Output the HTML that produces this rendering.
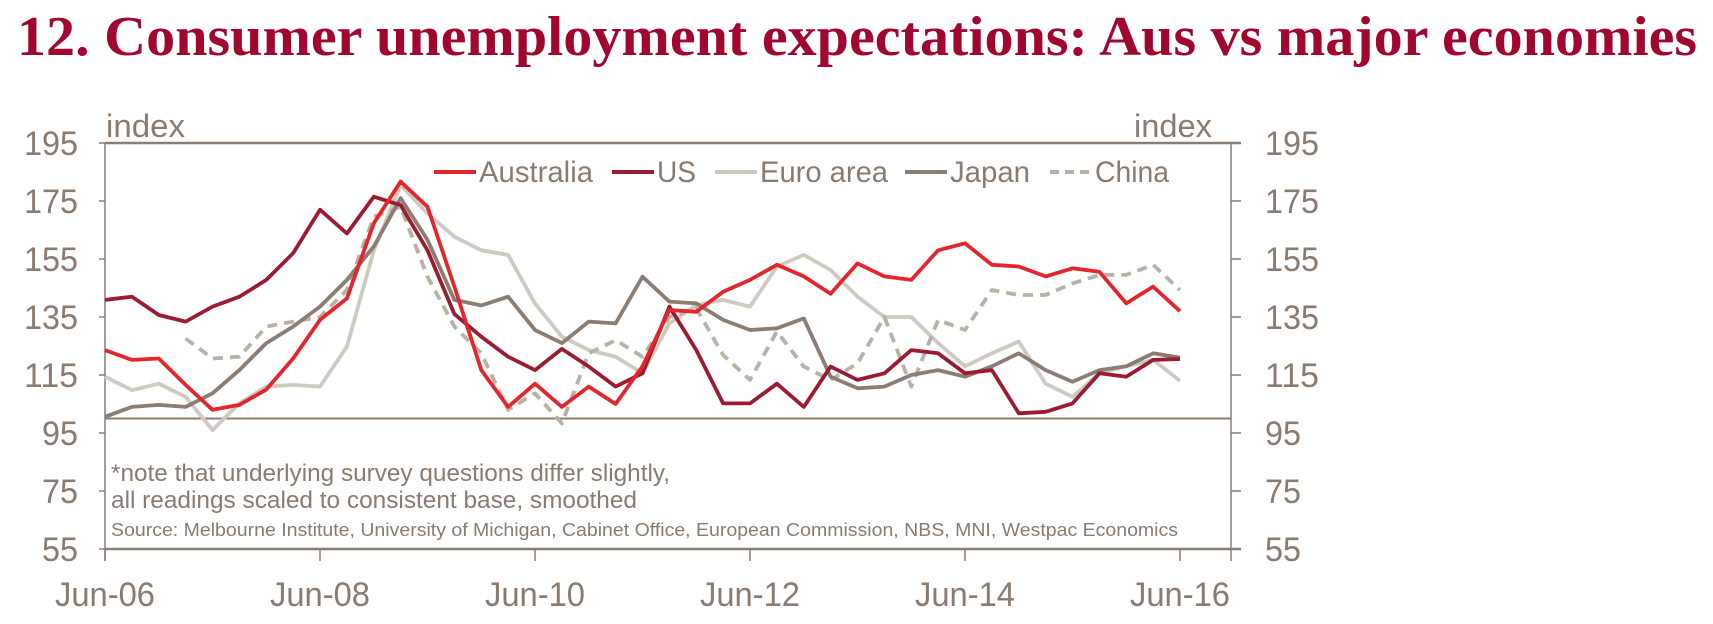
<!DOCTYPE html>
<html><head><meta charset="utf-8"><style>
html,body{margin:0;padding:0;background:#fff;}
svg{display:block;font-family:"Liberation Sans",sans-serif;}
</style></head><body>
<svg id="chart" width="1713" height="624" viewBox="0 0 1713 624" xmlns="http://www.w3.org/2000/svg">
<text x="17" y="55" font-family="Liberation Serif, serif" font-weight="bold" font-size="56" fill="#a0062e" textLength="1680" lengthAdjust="spacingAndGlyphs">12. Consumer unemployment expectations: Aus vs major economies</text>
<g id="axes"></g>
<g id="series"></g>
<g id="legend"></g>
<text x="111" y="481" font-size="24" fill="#8a7b6e" textLength="559" lengthAdjust="spacingAndGlyphs">*note that underlying survey questions differ slightly,</text>
<text x="111" y="508" font-size="24" fill="#8a7b6e" textLength="526" lengthAdjust="spacingAndGlyphs">all readings scaled to consistent base, smoothed</text>
<text x="111" y="536" font-size="18" fill="#8a7b6e" textLength="1067" lengthAdjust="spacingAndGlyphs">Source: Melbourne Institute, University of Michigan, Cabinet Office, European Commission, NBS,  MNI, Westpac Economics</text>
</svg>
<script>
const quarters = [0,0.25,0.5,0.75,1,1.25,1.5,1.75,2,2.25,2.5,2.75,3,3.25,3.5,3.75,4,4.25,4.5,4.75,5,5.25,5.5,5.75,6,6.25,6.5,6.75,7,7.25,7.5,7.75,8,8.25,8.5,8.75,9,9.25,9.5,9.75,10];
const australia = [123.6,120.2,120.7,111.6,103,104.7,110,120.7,134,141.4,167.3,181.7,173,145.5,116.7,104,112,104,111,105,118,137.4,136.8,143.7,147.8,153,149,143,153.5,149,147.8,158,160.4,153,152.4,149,151.8,150.6,139.7,145.5,137];
const us = [140.9,142,135.7,133.4,138.6,142,147.8,157,172,163.8,176.5,173.6,158,136,128.2,121.3,116.7,124,117.9,111,115.6,138.6,123.6,105.2,105.2,112,104,117.9,113.3,115.6,123.6,122.5,115.6,116.7,101.8,102.3,105.2,115.6,114.4,120.2,120.5];
const euro = [114.4,109.8,112,107.5,96,105.2,111,111.6,111,124.8,158,180.5,170.7,162.7,158,156.4,139.7,128.2,123.6,121.3,115.6,132.8,139.1,140.9,138.6,152.4,156.4,151.2,142,135,135,126,118,122.5,126.5,112,107.5,115.6,118,120.2,113];
const japan = [100.6,104,104.7,104,108.7,116.7,126,131.7,138.6,147.8,159.3,176,161.6,140.9,139,142,130.5,126,133.4,132.8,148.9,140.3,139.7,134,130.5,131.1,134.5,114.4,110.4,111,115,116.7,114.4,118,122.5,116.7,112.7,116.7,118,122.5,121];
const china = [null,null,null,127.6,120.7,121.3,131.7,133.4,135,144.3,169.6,173,148.9,131.7,122.5,103,108.7,98.3,122.5,127,121.3,135,138,121.9,113.3,130,117.9,113.3,119,135,111,134,130.5,144.3,142.6,142.6,146.6,149.5,149.5,153,144.3];
const yTicks = [55,75,95,115,135,155,175,195];
const xTickYears = [0,2,4,6,8,10];
const xTickLabels = ["Jun-06","Jun-08","Jun-10","Jun-12","Jun-14","Jun-16"];
const seriesNames = ["Australia","US","Euro area","Japan","China"];

const NS="http://www.w3.org/2000/svg";
const X0=105, PXY=107.5, XR=1231;
function x(t){return X0+PXY*t;}
function y(v){return 201+(175-v)*2.9;}
function mk(tag,attrs,parent){const e=document.createElementNS(NS,tag);for(const k in attrs)e.setAttribute(k,attrs[k]);parent.appendChild(e);return e;}
const axes=document.getElementById('axes');
const ax="#8c7d72", txt="#8a7b6e";
let e;
e=mk('line',{x1:X0,y1:y(195),x2:XR+10,y2:y(195),stroke:ax,'stroke-width':2.5},axes);


e=mk('line',{x1:X0,y1:y(55),x2:XR+10,y2:y(55),stroke:ax,'stroke-width':2.5},axes);


e=mk('line',{x1:X0,y1:y(195),x2:X0,y2:y(55)+12,stroke:ax,'stroke-width':1.5},axes);


e=mk('line',{x1:XR,y1:y(195),x2:XR,y2:y(55)+12,stroke:ax,'stroke-width':1.5},axes);


e=mk('line',{x1:X0,y1:y(100),x2:XR,y2:y(100),stroke:ax,'stroke-width':2},axes);


yTicks.forEach(v=>{
  const w=String(v).length*18;
  let t=mk('line',{x1:X0-6,y1:y(v),x2:X0,y2:y(v),stroke:ax,'stroke-width':1.5},axes);
  
  
  t=mk('line',{x1:XR,y1:y(v),x2:XR+10,y2:y(v),stroke:ax,'stroke-width':1.5},axes);
  
  
  let l=mk('text',{x:78,y:y(v)+12,'font-size':34,fill:txt,'text-anchor':'end',textLength:w,lengthAdjust:'spacingAndGlyphs'},axes);
  l.textContent=v;
  
  
  l=mk('text',{x:1265,y:y(v)+12,'font-size':34,fill:txt,textLength:w,lengthAdjust:'spacingAndGlyphs'},axes);
  l.textContent=v;
  
  
});
xTickYears.forEach((t,i)=>{
  let k=mk('line',{x1:x(t),y1:y(55),x2:x(t),y2:y(55)+12,stroke:ax,'stroke-width':1.5},axes);
  
  
  let l=mk('text',{x:x(t),y:606,'font-size':34,fill:txt,'text-anchor':'middle',textLength:100,lengthAdjust:'spacingAndGlyphs'},axes);
  l.textContent=xTickLabels[i];
  
  
});
let ix=mk('text',{x:106,y:137,'font-size':32,fill:txt,textLength:79,lengthAdjust:'spacingAndGlyphs'},axes);
ix.textContent='index';


ix=mk('text',{x:1134,y:137,'font-size':32,fill:txt,textLength:78,lengthAdjust:'spacingAndGlyphs'},axes);
ix.textContent='index';



const styles=[
 {data:australia,color:"#e3262b",dash:null,name:'australia-line'},
 {data:us,color:"#9b1b30",dash:null,name:'us-line'},
 {data:euro,color:"#cfcac0",dash:null,name:'euro-area-line'},
 {data:japan,color:"#8c7d72",dash:null,name:'japan-line'},
 {data:china,color:"#b7b2a3",dash:"10,7",name:'china-line'}
];
const sg=document.getElementById('series');
[2,4,3,1,0].forEach(i=>{
  const s=styles[i];
  let d='',pen=false;
  s.data.forEach((v,j)=>{
    if(v==null){pen=false;return;}
    d+=(pen?'L':'M')+x(quarters[j]).toFixed(1)+','+y(v).toFixed(1);
    pen=true;
  });
  const p=mk('path',{d:d,fill:'none',stroke:s.color,'stroke-width':3.8,'stroke-linejoin':'round'},sg);
  if(s.dash)p.setAttribute('stroke-dasharray',s.dash);
  
  
});
const lg=document.getElementById('legend');
const legX=[434,612,715,905,1050], legTW=[114,39,128,80,74];
styles.forEach((s,i)=>{
  const l=mk('line',{x1:legX[i],y1:172,x2:legX[i]+42,y2:172,stroke:s.color,'stroke-width':4},lg);
  if(s.dash)l.setAttribute('stroke-dasharray','9,6');
  
  
  const t=mk('text',{x:legX[i]+45,y:182,'font-size':30,fill:txt,textLength:legTW[i],lengthAdjust:'spacingAndGlyphs'},lg);
  t.textContent=seriesNames[i];
  
  
});
</script>
</body></html>
